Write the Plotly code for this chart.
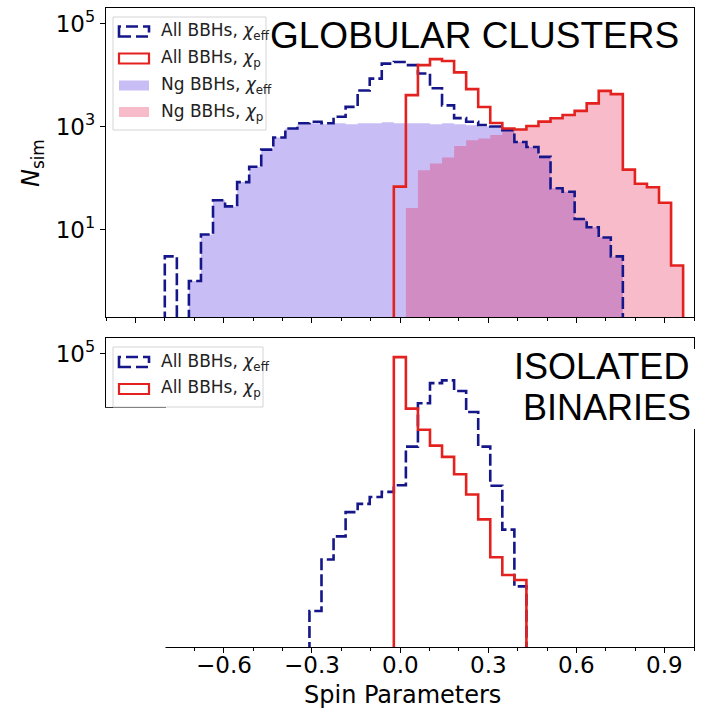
import plotly.graph_objects as go

# ---------------- data ----------------
BIN_EDGES = [-0.800, -0.759, -0.718, -0.677, -0.636, -0.595, -0.554, -0.513, -0.472, -0.431,
             -0.390, -0.349, -0.308, -0.267, -0.226, -0.185, -0.144, -0.103, -0.062, -0.021,
             0.020, 0.061, 0.102, 0.143, 0.184, 0.225, 0.266, 0.307, 0.348, 0.389,
             0.430, 0.471, 0.512, 0.553, 0.594, 0.635, 0.676, 0.717, 0.758, 0.799,
             0.840, 0.881, 0.922, 0.963]

# Globular clusters
GC_ALL_CHI_EFF = [3, 0, 1, 8, 37, 28, 83, 165, 355, 610,
                  910, 1150, 1230, 1150, 1540, 2400, 5000, 8500, 16600, 17800,
                  15500, 10700, 5500, 2570, 1450, 1230, 1070, 1000, 850, 500,
                  400, 257, 63, 54, 16, 11, 7, 3, 0, 0,
                  0, 0, 0]
GC_NG_CHI_EFF = [0, 0, 1, 8, 37, 28, 83, 165, 355, 610,
                 910, 1100, 1150, 1100, 1150, 1100, 1150, 1150, 1200, 1150,
                 1150, 1150, 1100, 1150, 1100, 1050, 1000, 950, 850, 500,
                 400, 257, 63, 54, 16, 11, 7, 3, 0, 0,
                 0, 0, 0]
GC_ALL_CHI_P = [0, 0, 0, 0, 0, 0, 0, 0, 0, 0,
                0, 0, 0, 0, 0, 0, 0, 0, 0, 68,
                4050, 15500, 20300, 18700, 11200, 5300, 2390, 1170, 910, 870,
                1020, 1240, 1440, 1670, 2010, 2800, 4900, 4250, 145, 77,
                66, 33, 2]
GC_NG_CHI_P = [0, 0, 0, 0, 0, 0, 0, 0, 0, 0,
               0, 0, 0, 0, 0, 0, 0, 0, 0, 0,
               26, 141, 190, 250, 415, 540, 585, 680, 910, 870,
               1020, 1240, 1440, 1670, 2010, 2800, 4900, 4250, 145, 77,
               66, 33, 2]

# Isolated binaries
ISO_ALL_CHI_EFF = [0, 0, 0, 0, 0, 0, 0, 0, 0, 0,
                   0, 0, 1, 10, 28, 83, 120, 163, 205, 275,
                   1550, 10800, 26500, 30000, 18700, 7300, 1550, 270, 38, 3,
                   0, 0, 0, 0, 0, 0, 0, 0, 0, 0,
                   0, 0, 0]
ISO_ALL_CHI_P = [0, 0, 0, 0, 0, 0, 0, 0, 0, 0,
                 0, 0, 0, 0, 0, 0, 0, 0, 0, 85000,
                 8500, 3300, 1620, 980, 450, 182, 60, 11, 5, 4,
                 0, 0, 0, 0, 0, 0, 0, 0, 0, 0,
                 0, 0, 0]

X_TICKS = [-0.9, -0.6, -0.3, 0.0, 0.3, 0.6, 0.9]
X_TICK_TEXT = ["\u22120.9", "\u22120.6", "\u22120.3", "0.0", "0.3", "0.6", "0.9"]
Y_TICKS = [10, 1000, 100000]
Y_TICK_TEXT = ["10<sup>1</sup>", "10<sup>3</sup>", "10<sup>5</sup>"]

LEG_TOP = ["All BBHs, <i>\u03c7</i><sub>eff</sub>", "All BBHs, <i>\u03c7</i><sub>p</sub>",
           "Ng BBHs, <i>\u03c7</i><sub>eff</sub>", "Ng BBHs, <i>\u03c7</i><sub>p</sub>"]

# ---------------- style ----------------
BLUE = "#15168a"
RED = "#e3221f"
LAV = "rgba(120,90,230,0.40)"
PINK = "rgba(230,30,80,0.30)"
FLOOR = 1e-3

W, H = 703, 718
ML, MR, MT, MB = 106, 9, 8, 71
PW, PH = W - ML - MR, H - MT - MB


def px(x):
    return (x - ML) / PW


def py(y):
    return (H - MB - y) / PH


def step_xy(edges, counts):
    xs, ys = [edges[0]], [FLOOR]
    for i, c in enumerate(counts):
        v = c if c > 0 else FLOOR
        xs += [edges[i], edges[i + 1]]
        ys += [v, v]
    xs.append(edges[-1])
    ys.append(FLOOR)
    return xs, ys


fig = go.Figure()


def add_fill(counts, color, yaxis):
    xs, ys = step_xy(BIN_EDGES, counts)
    fig.add_trace(go.Scatter(x=xs, y=ys, mode="lines", fill="toself", fillcolor=color,
                             line=dict(width=0), xaxis="x" if yaxis == "y" else "x2",
                             yaxis=yaxis, showlegend=False, hoverinfo="skip"))


def add_step(counts, color, dash, yaxis):
    xs, ys = step_xy(BIN_EDGES, counts)
    fig.add_trace(go.Scatter(x=xs, y=ys, mode="lines",
                             line=dict(color=color, width=2.6, dash=dash),
                             xaxis="x" if yaxis == "y" else "x2",
                             yaxis=yaxis, showlegend=False, hoverinfo="skip"))


add_fill(GC_NG_CHI_EFF, LAV, "y")
add_fill(GC_NG_CHI_P, PINK, "y")
add_step(GC_ALL_CHI_EFF, BLUE, "12px,4px", "y")
add_step(GC_ALL_CHI_P, RED, "solid", "y")

add_step(ISO_ALL_CHI_EFF, BLUE, "12px,4px", "y2")
add_step(ISO_ALL_CHI_P, RED, "solid", "y2")

top_dom = [py(317), 1.0]
bot_dom = [0.0, py(338)]

xcommon = dict(range=[-1.0, 1.0], showline=True, linecolor="black", linewidth=1.4, mirror=True,
               ticks="outside", ticklen=5, tickwidth=1.2, tickcolor="black",
               tickvals=X_TICKS, ticktext=X_TICK_TEXT, showgrid=False, zeroline=False,
               showticklabels=False,
               minor=dict(dtick=0.1, tick0=0, ticks="outside", ticklen=3, tickcolor="black", tickwidth=1))
ycommon = dict(type="log", range=[-0.70, 5.30], showline=True, linecolor="black", linewidth=1.4,
               mirror=True, ticks="outside", ticklen=5, tickwidth=1.2, tickcolor="black",
               tickvals=Y_TICKS, ticktext=Y_TICK_TEXT, showgrid=False, zeroline=False,
               tickfont=dict(family="DejaVu Sans", size=23, color="black"))

fig.update_layout(
    width=W, height=H, margin=dict(l=ML, r=MR, t=MT, b=MB),
    paper_bgcolor="white", plot_bgcolor="white", showlegend=False,
    xaxis=dict(xcommon, domain=[0, 1], anchor="y"),
    yaxis=dict(ycommon, domain=top_dom, anchor="x"),
    xaxis2=dict(xcommon, domain=[0, 1], anchor="y2", matches="x"),
    yaxis2=dict(ycommon, domain=bot_dom, anchor="x2"),
    font=dict(family="DejaVu Sans", color="black"),
)

shapes = []
annots = []

# x tick labels of the bottom panel (the part left of -0.8 is blanked in the reference)
for v, t in zip(X_TICKS, X_TICK_TEXT):
    if v < -0.8:
        continue
    annots.append(dict(xref="x2", yref="paper", x=v, y=py(665), xanchor="center", yanchor="middle",
                       text=t, showarrow=False,
                       font=dict(family="DejaVu Sans", size=23, color="black")))

# white cover on the lower-left of the bottom panel (as in the composed reference)
shapes.append(dict(type="rect", xref="paper", yref="paper", x0=px(-5), x1=px(165.5),
                   y0=py(730), y1=py(407.5), fillcolor="white", line=dict(width=0), layer="above"))
shapes.append(dict(type="line", xref="paper", yref="paper", x0=px(105), x1=px(166),
                   y0=py(407.5), y1=py(407.5), line=dict(color="#333333", width=1.2), layer="above"))
# white box behind "ISOLATED BINARIES" (hides the right spine there)
shapes.append(dict(type="rect", xref="paper", yref="paper", x0=px(505), x1=px(699),
                   y0=py(429), y1=py(349), fillcolor="white", line=dict(width=0), layer="above"))


def legend(box, entries):
    x0, y0, x1, y1 = box
    shapes.append(dict(type="rect", xref="paper", yref="paper", x0=px(x0), x1=px(x1),
                       y0=py(y1), y1=py(y0), fillcolor="rgba(255,255,255,0.85)",
                       line=dict(color="#d4d4d4", width=1), layer="above"))
    for kind, yc, text in entries:
        r = dict(type="rect", xref="paper", yref="paper", x0=px(119), x1=px(149),
                 y0=py(yc + 5), y1=py(yc - 5), layer="above")
        if kind == "dash":
            r.update(fillcolor="rgba(0,0,0,0)", line=dict(color=BLUE, width=2.6, dash="12px,5px"))
        elif kind == "red":
            r.update(fillcolor="rgba(0,0,0,0)", line=dict(color=RED, width=2.2))
        elif kind == "lav":
            r.update(fillcolor=LAV, line=dict(width=0))
        else:
            r.update(fillcolor=PINK, line=dict(width=0))
        shapes.append(r)
        annots.append(dict(xref="paper", yref="paper", x=px(159), y=py(yc), xanchor="left",
                           yanchor="middle", text=text, showarrow=False,
                           font=dict(family="DejaVu Sans", size=17, color="#222222")))


legend((113, 17, 266, 130), [("dash", 31.5, LEG_TOP[0]), ("red", 58.5, LEG_TOP[1]),
                             ("lav", 85.5, LEG_TOP[2]), ("pink", 112, LEG_TOP[3])])
legend((113, 347, 263, 407), [("dash", 362, LEG_TOP[0]), ("red", 389, LEG_TOP[1])])

annots.append(dict(xref="paper", yref="paper", x=px(474), y=py(35), xanchor="center", yanchor="middle",
                   text="GLOBULAR CLUSTERS", showarrow=False,
                   font=dict(family="Liberation Sans", size=37, color="black")))
annots.append(dict(xref="paper", yref="paper", x=px(691), y=py(366), xanchor="right", yanchor="middle",
                   text="ISOLATED", showarrow=False,
                   font=dict(family="Liberation Sans", size=36, color="black")))
annots.append(dict(xref="paper", yref="paper", x=px(693), y=py(408), xanchor="right", yanchor="middle",
                   text="BINARIES", showarrow=False,
                   font=dict(family="Liberation Sans", size=36, color="black")))
annots.append(dict(xref="paper", yref="paper", x=px(33), y=py(163), xanchor="center", yanchor="middle",
                   text="<i>N</i><sub>sim</sub>", textangle=-90, showarrow=False,
                   font=dict(family="DejaVu Sans", size=24, color="black")))
annots.append(dict(xref="paper", yref="paper", x=px(402), y=py(695), xanchor="center", yanchor="middle",
                   text="Spin Parameters", showarrow=False,
                   font=dict(family="DejaVu Sans", size=24, color="black")))

fig.update_layout(shapes=shapes, annotations=annots)
fig.write_html("out.html")
